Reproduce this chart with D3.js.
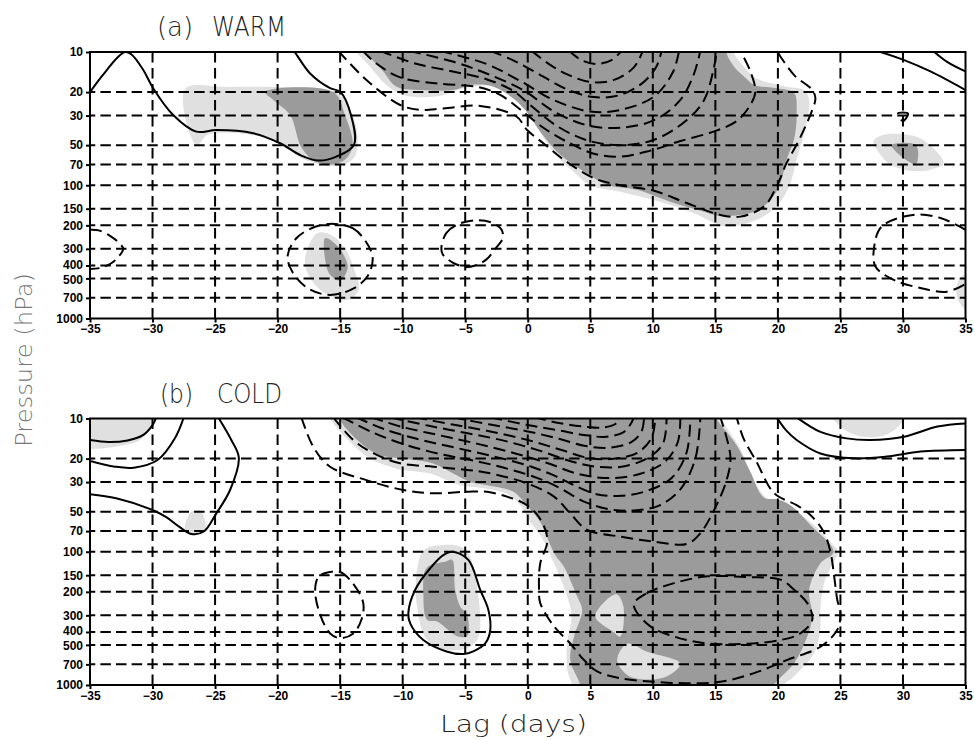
<!DOCTYPE html>
<html>
<head>
<meta charset="utf-8">
<script src="https://cdn.jsdelivr.net/npm/d3@7"></script>
<style>
  body { margin: 0; background: #fff; }
</style>
</head>
<body>
<svg id="chart" width="974" height="740"></svg>
<script>
// axis values
const lagTicks = [-35, -30, -25, -20, -15, -10, -5, 0, 5, 10, 15, 20, 25, 30, 35];
const pressureTicks = [10, 20, 30, 50, 70, 100, 150, 200, 300, 400, 500, 700, 1000];

// ---- (a) WARM : points are [lag (days), pressure (hPa)] ----
const warmLight = [
  [[-27.4,19],[-24,18.3],[-20,18.3],[-16.5,18.8],[-15,21],[-14.3,27],[-13.8,34],[-13.6,48],[-13.8,60],[-14.4,68],[-15.7,72],[-17,68],[-18.2,62],[-20,48],[-22,42],[-25.5,41.5],[-26.5,50]],
  [[-16.8,228],[-15.6,240],[-14.6,300],[-13.8,450],[-13.5,600],[-14.3,720],[-15.5,700],[-17,560],[-17.8,400],[-17.6,300]],
  [[-13.8,9],[-12.6,12.9],[-11.3,17.7],[-10,21],[-7.3,21.6],[-5.15,18.7],[-4.1,18],[-2.2,18.2],[-0.6,23],[0.45,33],[2.05,56],[3.65,79],[5,100],[7.4,112],[10.9,136],[13.3,162],[15.9,204],[18.6,176],[19.9,144],[20.9,102],[21.5,64],[22.3,34.2],[22.5,22.9],[22.1,19.3],[20.7,18.2],[18.3,15.8],[17.3,12.9],[16.5,10.2],[16.3,9]],
  [[27.65,46.6],[28.4,42],[30,41.5],[31.6,45.6],[33.25,68.5],[32.2,76.5],[30.6,78],[29,70],[28.2,59]],
  [[36,460],[34.9,470],[34.3,560],[34.4,720],[35,850],[36,850]]
];
const warmDark = [
  [[-21,19.9],[-15.55,20],[-14.6,30],[-14,50],[-14.6,64],[-15.7,70],[-17,66],[-18.1,52],[-19,29.7],[-20.35,22.9]],
  [[-16.2,250],[-15.4,275],[-14.6,350],[-14.4,420],[-15,520],[-15.8,470],[-16.2,360]],
  [[-12.9,9],[-12.9,10],[-11.55,14],[-10.5,18.2],[-8.6,19.3],[-5.95,19.3],[-4.6,17.7],[-2.75,18.2],[-1.15,22.3],[-0.1,28],[1,39.6],[2.6,59],[4.7,81],[6.3,99],[8.7,108],[11.7,136],[14.1,158],[15.4,170],[18.1,158],[19.4,129],[20.2,96],[20.7,64],[21.3,45],[21.5,28],[21.3,20.3],[19.9,18.7],[18.1,17.7],[17.3,15.3],[16.5,12.9],[15.9,10.2],[15.9,9]],
  [[29.1,50],[31.05,50],[31.05,69],[30.2,64]]
];
const warmSolid = [
  [[-35,20],[-34,15],[-32.8,11],[-32.2,10],[-31.7,10.4],[-30.75,13.6],[-29.95,18.7],[-28.35,29.7],[-26.5,39.6],[-24.9,38.5],[-21.95,40.7],[-19.8,48.4],[-18.2,59.3],[-16.75,65.3],[-15.3,61],[-13.9,49.9],[-14.1,30.5],[-15,19.9],[-15.8,18.7],[-17.4,14.5],[-18.6,10.1],[-18.8,9.6]],
  [[27.9,9.8],[30.1,11.5],[32.2,14],[35,19.3]],
  [[32.4,9.8],[33.5,11.8],[35,14]]
];
const warmDashed = [
  [[3.3,9.8],[4.3,11.5],[5.5,12.3],[6.7,11.5],[7.5,9.8]],
  [[0.3,9.8],[1.8,12.5],[3.2,14.8],[5,16.8],[6.9,16.2],[8.5,13],[9.2,9.8]],
  [[-3,9.8],[-1.2,11.5],[0.8,14.5],[3.1,19],[5.3,21.8],[7.4,21],[9.3,16.7],[10.3,12.8],[10.7,9.8]],
  [[-7,9.8],[-3.3,12.3],[-0.6,16.5],[2.1,23],[5,28],[7.4,27.2],[10.1,21.6],[11.6,14.2],[12.1,9.8]],
  [[-9.5,9.8],[-6,11.8],[-3.3,14.5],[-0.3,19.5],[2.1,28],[4.75,35.5],[7.4,37],[10.1,32.5],[12.2,22.9],[13.3,14.5],[13.8,9.8]],
  [[-11.8,9.8],[-9,12.2],[-6,14],[-3.3,16],[-1.2,19.5],[0.2,25],[2.35,36],[4.75,46],[7.4,50],[10.1,45.6],[12.7,32.5],[14.1,22.9],[14.9,12.9],[15.1,9.8]],
  [[-13.2,9.8],[-12.1,12.2],[-10.2,15.5],[-7,17.3],[-4,18.3],[-2.2,21],[-0.6,27],[1.25,37],[3.1,47],[5.3,58],[7.4,61],[9.8,55],[12.2,46.6],[14.85,39.6],[16.7,33],[17.8,25],[18.2,19.8],[17.8,14],[17,9.8]],
  [[-15.15,9.8],[-12.9,16.2],[-10.2,25],[-8.6,27.2],[-6.75,26.5],[-3.8,25.4],[-0.9,30.5],[-0.05,38.5],[1.25,48.4],[2.9,64.5],[5.3,88.6],[7.4,100],[10.1,110],[12.7,136],[15.4,167],[17,172],[18.9,144],[19.9,102],[20.7,68],[21.7,45.6],[22.75,27.2],[23,22.3],[22.75,19.3],[21.3,14.9],[20.2,10.8],[19.9,9.8]],
  [[-35,216],[-34.3,218],[-33.4,240],[-32.7,270],[-32.35,300],[-32.8,350],[-33.3,385],[-34.2,418],[-35,425]],
  [[35,216],[33,176],[30.8,167],[28.3,204],[27.7,289],[27.8,407],[29.3,515],[31.4,590],[33.5,630],[35,550]]
];
const warmDashedClosed = [
  [[-15.5,195],[-14,210],[-13,260],[-12.4,350],[-12.8,480],[-14,600],[-15.8,665],[-17.5,600],[-18.8,450],[-19.2,340],[-18.5,250],[-17,205]],
  [[-6.9,290],[-6.5,228],[-5.5,195],[-4,183],[-2.8,192],[-2.1,215],[-2,250],[-2.6,300],[-3.3,360],[-4.2,400],[-5,410],[-6,380],[-6.8,330]],
  [[29.6,29],[30.4,29],[30,33]]
];

// ---- (b) COLD ----
const coldLight = [
  [[-36,9],[-29.9,9],[-29.9,10],[-30.3,12],[-31,14.5],[-33,16.3],[-35,17],[-36,17]],
  [[-27.4,69],[-26.9,50],[-26.1,50],[-25.8,70],[-26.8,73.5]],
  [[-8.3,97],[-6.75,89],[-5.4,91.5],[-4.6,110],[-3.95,217],[-3.8,363],[-4.05,460],[-4.85,530],[-6.45,545],[-8.05,460],[-8.85,258],[-8.85,137]],
  [[-15.9,9],[-15.8,10],[-14.2,15],[-12.6,20],[-10.5,23.8],[-7.8,25.9],[-6.5,29],[-5.4,31.7],[-3.3,33.6],[-1.7,36.6],[-0.6,44.7],[0.2,59.7],[1,75],[2.1,122],[3.15,217],[3.5,300],[3.15,488],[3.15,765],[3.55,1000],[3.6,1100],[20.5,1100],[20.5,1000],[21.3,860],[22.9,576],[23.4,385],[23.4,273],[23.7,172],[24.75,106],[24.85,100],[24.45,89.7],[22.6,59.7],[21,47.5],[19.4,42.2],[18.3,31.7],[17,16.9],[15.5,10],[15.5,9]],
  [[24.2,9],[30.1,9],[29.8,11],[28.7,13.2],[27.4,13.9],[26.1,13.2],[25,11.5]]
];
const coldDark = [
  [[-7.7,125],[-6.6,119],[-6.05,115],[-5.8,193],[-5.4,258],[-4.85,297],[-4.85,430],[-5.65,430],[-7.25,334],[-8.05,324],[-8.35,205],[-8.2,137]],
  [[-15,9],[-15,10],[-14.75,11.2],[-13.15,15.9],[-11.8,18.9],[-9.95,20],[-7.55,21.8],[-5.95,25.9],[-4.6,30],[-3.25,31.7],[-1.15,35.5],[-0.1,44.7],[1,59.7],[1.4,72],[2.2,106],[2.9,130],[3.95,217],[4.35,273],[3.7,433],[3.4,650],[4.2,1000],[4.2,1100],[19.7,1100],[19.7,1000],[21.3,687],[22.35,433],[22.75,305],[22.5,193],[23.4,122],[24.45,100],[22.6,63],[21,44.7],[20,40.5],[18.85,39],[17.8,25.2],[16.7,15.9],[15.9,12.6],[15.1,10],[15.1,9]]
];
const coldLightOver = [
  [[5.4,305],[7.1,208],[7.65,258],[7.4,433],[6.85,400]],
  [[7.15,650],[7.95,490],[9.5,560],[12.2,690],[11.15,860],[9.55,910],[7.95,840]]
];
const coldSolid = [
  [[-35,14.5],[-33.5,15],[-32,14.6],[-30.8,13.4],[-30,11.2],[-29.7,9.8]],
  [[-35,20.8],[-33,23],[-31.5,23.4],[-29.6,20.5],[-28.2,14],[-27.5,9.8]],
  [[-35,37],[-32.9,39.7],[-30,48.6],[-28.9,55],[-27.85,65],[-26.9,73.5],[-25.9,70.5],[-24.9,51.5],[-23.8,34.4],[-23.1,19.7],[-23.7,14.5],[-24.75,9.8]],
  [[19.9,9.8],[20.7,12.4],[21.5,14.5],[23.4,18.3],[26.1,19.9],[28.7,19.3],[31.4,17.7],[35,17.2]],
  [[21.5,9.8],[23.4,12.6],[25.5,14.1],[27.4,14.5],[30.1,13.7],[32.75,11.5],[35,10.9]]
];
const coldSolidClosed = [
  [[-6,100],[-4.75,115],[-3.8,193],[-3.15,273],[-3,390],[-3.4,488],[-4.35,560],[-5.15,586],[-6.5,560],[-8.35,460],[-9.4,345],[-9.55,290],[-9,193],[-7.8,133],[-6.75,106]]
];
const coldDashed = [
  [[0.5,9.8],[2.5,10.8],[4.5,11.5],[6,11.7],[7,11],[7.4,9.8]],
  [[-3,9.8],[0,11.2],[2.5,12.3],[4.5,13.3],[6.3,13.7],[7.8,12.4],[8.5,9.8]],
  [[-6,9.8],[-3,11.1],[0,12.5],[2.5,14.2],[4.5,16],[6.5,16.6],[8.3,15],[9.1,12.5],[9.3,9.8]],
  [[-9,9.8],[-6,11.1],[-3,12.5],[0,14.5],[2.5,17],[5,19.9],[7,20],[8.8,18],[9.9,14],[10.2,9.8]],
  [[-11,9.8],[-8,11.3],[-5,12.8],[-2,14.6],[1,17.5],[3.5,21],[5.5,23],[7.5,23],[9.5,20],[10.8,15.5],[11.1,9.8]],
  [[-12.5,9.8],[-10,11.6],[-7,13.4],[-4,15.5],[-1,18.3],[1.5,21.5],[4,26],[6.5,28],[9,26],[11,21],[12,15],[12.2,9.8]],
  [[-13.7,9.8],[-11.5,12],[-8.5,14.5],[-5.5,16.8],[-2.5,19.5],[0,22.5],[2,26.5],[3.5,31],[5.5,37],[7.5,38],[9.5,35],[11.5,28],[12.7,18],[13,9.8]],
  [[-14.8,9.8],[-12.5,12.6],[-10,15.5],[-7,18.5],[-4,21],[-1.5,24],[0.8,28],[2.5,33],[4.5,42],[6.5,48],[8.5,49],[10.5,45],[12.2,34],[13.4,20],[13.8,9.8]],
  [[-15.55,9.8],[-13.95,14.5],[-12.35,18.2],[-10.2,21.7],[-7.55,23],[-4.9,24.3],[-3.25,25.5],[-0.05,30.7],[2.1,38.6],[3.4,51.5],[4.75,68.6],[7.4,77],[10.1,84],[12.7,87.5],[13.8,72.6],[14.9,48.6],[15.9,29],[16.2,19.3],[15.4,9.8]],
  [[-18.1,9.8],[-17.15,16.3],[-15.8,23],[-12.9,29],[-9.95,34.4],[-7.55,36.4],[-4.9,35.5],[-3.25,35.5],[-1.65,38.6],[-0.3,43.4],[0.7,52],[1.4,68],[1.55,86],[1,122],[0.9,193],[1,243],[2.1,363],[3.4,488],[4.5,650],[5.55,791],[7.4,890],[10.1,945],[12.7,970],[15.4,945],[18.1,815],[20.7,650],[23.4,516],[24.75,385],[25,290],[24.75,230],[24.5,153],[24.2,100],[23.65,70.6],[22.6,53],[21.5,44.7],[20.05,38.5],[19.4,33.6],[18.3,21.2],[17.25,14.1],[16.7,9.8]]
];
const coldDashedClosed = [
  [[-15.8,142],[-15,142],[-14,172],[-13.15,243],[-13.3,324],[-13.95,410],[-15,445],[-15.8,410],[-16.6,296],[-17,194],[-16.7,153]],
  [[8.5,243],[9.5,205],[11.7,172],[14.35,153],[17.55,155],[20.2,162],[21.3,193],[22.35,243],[22.75,324],[21.8,410],[20.2,460],[17.55,490],[14.35,488],[11.7,433],[9.8,363],[8.6,273]]
];

const panels = [
  { top: 52, tag: '(a)', name: 'WARM', tagX: 157, tagW: 36, nameX: 212, nameW: 74, titleY: 36,
    light: warmLight, dark: warmDark, lightOver: [], solid: warmSolid, solidClosed: [],
    dashed: warmDashed, dashedClosed: warmDashedClosed },
  { top: 418.5, tag: '(b)', name: 'COLD', tagX: 160, tagW: 33, nameX: 217, nameW: 65, titleY: 403,
    light: coldLight, dark: coldDark, lightOver: coldLightOver, solid: coldSolid, solidClosed: coldSolidClosed,
    dashed: coldDashed, dashedClosed: coldDashedClosed }
];

const LIGHT = '#e0e0e0';
const DARK = '#9b9b9b';
const LW = 2;
const xLeft = 90, xRight = 965.5, panelH = 266.5;
const labelFont = '"Liberation Sans", Arial, sans-serif';
const titleFont = '"DejaVu Sans", sans-serif';

const svg = d3.select('#chart');
const defs = svg.append('defs');
const x = d3.scaleLinear().domain([-35, 35]).range([xLeft, xRight]);

panels.forEach(function (p, i) {
  const y = d3.scaleLog().domain([10, 1000]).range([p.top, p.top + panelH]);

  defs.append('clipPath').attr('id', 'clip' + i)
    .append('rect')
    .attr('x', xLeft).attr('y', p.top)
    .attr('width', xRight - xLeft).attr('height', panelH);

  const g = svg.append('g');
  const plot = g.append('g').attr('clip-path', 'url(#clip' + i + ')');

  const openLine = d3.line().x(d => x(d[0])).y(d => y(d[1])).curve(d3.curveCatmullRom.alpha(0.5));
  const closedLine = d3.line().x(d => x(d[0])).y(d => y(d[1])).curve(d3.curveCatmullRomClosed.alpha(0.5));

  // shading
  plot.append('g').selectAll('path').data(p.light).join('path')
    .attr('d', closedLine).attr('fill', LIGHT);
  plot.append('g').selectAll('path').data(p.dark).join('path')
    .attr('d', closedLine).attr('fill', DARK);
  plot.append('g').selectAll('path').data(p.lightOver).join('path')
    .attr('d', closedLine).attr('fill', LIGHT);

  // dashed grid
  plot.append('g').selectAll('line').data(pressureTicks.slice(1, -1)).join('line')
    .attr('x1', xLeft).attr('x2', xRight)
    .attr('y1', d => y(d)).attr('y2', d => y(d))
    .attr('stroke', '#000').attr('stroke-width', LW)
    .attr('stroke-dasharray', '10.5,5.125').attr('stroke-dashoffset', 5.25);
  plot.append('g').selectAll('line').data(lagTicks.slice(1, -1)).join('line')
    .attr('x1', d => x(d)).attr('x2', d => x(d))
    .attr('y1', p.top).attr('y2', p.top + panelH)
    .attr('stroke', '#000').attr('stroke-width', LW)
    .attr('stroke-dasharray', '10.5,5.5');

  // contours
  plot.append('g').selectAll('path').data(p.solid).join('path')
    .attr('d', openLine).attr('fill', 'none')
    .attr('stroke', '#000').attr('stroke-width', LW);
  plot.append('g').selectAll('path').data(p.solidClosed).join('path')
    .attr('d', closedLine).attr('fill', 'none')
    .attr('stroke', '#000').attr('stroke-width', LW);
  plot.append('g').selectAll('path').data(p.dashed).join('path')
    .attr('d', openLine).attr('fill', 'none')
    .attr('stroke', '#000').attr('stroke-width', LW)
    .attr('stroke-dasharray', '12,6');
  plot.append('g').selectAll('path').data(p.dashedClosed).join('path')
    .attr('d', closedLine).attr('fill', 'none')
    .attr('stroke', '#000').attr('stroke-width', LW)
    .attr('stroke-dasharray', '12,6');

  // axes
  const yAxis = g.append('g')
    .attr('transform', 'translate(' + xLeft + ',0)')
    .call(d3.axisLeft(y).tickValues(pressureTicks).tickFormat(d3.format('d')).tickSize(4).tickSizeOuter(0).tickPadding(3));
  const xAxis = g.append('g')
    .attr('transform', 'translate(0,' + (p.top + panelH) + ')')
    .call(d3.axisBottom(x).tickValues(lagTicks).tickSize(4).tickSizeOuter(0).tickPadding(2));
  [yAxis, xAxis].forEach(function (a) {
    a.select('.domain').remove();
    a.selectAll('line').attr('stroke', '#000').attr('stroke-width', LW);
    a.selectAll('text')
      .attr('font-family', labelFont).attr('font-size', 12).attr('font-weight', 'bold')
      .attr('fill', '#000');
  });
  // 400 and 500 sit very close together; nudge them apart a little
  yAxis.selectAll('.tick text')
    .attr('y', d => d === 400 ? -1 : d === 500 ? 1 : null);

  g.append('rect')
    .attr('x', xLeft).attr('y', p.top)
    .attr('width', xRight - xLeft).attr('height', panelH)
    .attr('fill', 'none').attr('stroke', '#000').attr('stroke-width', LW);

  // title
  g.append('text').attr('x', p.tagX).attr('y', p.titleY)
    .attr('font-family', titleFont).attr('font-weight', 200).attr('font-size', 26)
    .attr('fill', '#222').attr('textLength', p.tagW).attr('lengthAdjust', 'spacingAndGlyphs')
    .text(p.tag);
  g.append('text').attr('x', p.nameX).attr('y', p.titleY)
    .attr('font-family', titleFont).attr('font-weight', 200).attr('font-size', 26)
    .attr('fill', '#222').attr('textLength', p.nameW).attr('lengthAdjust', 'spacingAndGlyphs')
    .text(p.name);
});

svg.append('text')
  .attr('transform', 'translate(32,360) rotate(-90)')
  .attr('text-anchor', 'middle')
  .attr('font-family', titleFont).attr('font-weight', 200).attr('font-size', 23)
  .attr('fill', '#777').attr('textLength', 174).attr('lengthAdjust', 'spacingAndGlyphs')
  .text('Pressure (hPa)');

svg.append('text')
  .attr('x', 513.5).attr('y', 732)
  .attr('text-anchor', 'middle')
  .attr('font-family', titleFont).attr('font-weight', 200).attr('font-size', 23)
  .attr('fill', '#222').attr('textLength', 147).attr('lengthAdjust', 'spacingAndGlyphs')
  .text('Lag (days)');
</script>
</body>
</html>
